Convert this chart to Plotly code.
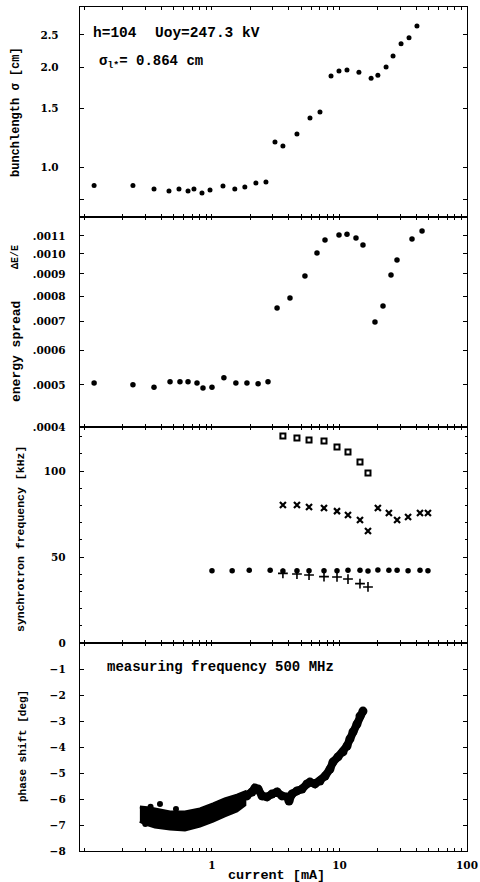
import plotly.graph_objects as go

# ---------------- data ----------------
# panel 1: bunch length sigma [cm] vs current [mA]
bl_current = [0.119, 0.240, 0.351, 0.460, 0.551, 0.649, 0.722, 0.835, 0.965, 1.22, 1.51,
              1.81, 2.21, 2.65, 3.12, 3.60, 4.64, 5.87, 7.03, 8.58, 9.91, 11.45, 14.2,
              17.7, 20.0, 23.2, 26.3, 30.4, 35.1, 40.5]
bl_sigma = [0.880, 0.880, 0.858, 0.847, 0.858, 0.847, 0.858, 0.835, 0.852, 0.876, 0.858,
            0.870, 0.895, 0.901, 1.190, 1.157, 1.257, 1.405, 1.464, 1.880, 1.946, 1.960, 1.930,
            1.850, 1.890, 2.000, 2.160, 2.350, 2.450, 2.660]

# panel 2: energy spread dE/E
es_current = [0.119, 0.240, 0.351, 0.469, 0.561, 0.649, 0.763, 0.850, 1.00, 1.24, 1.54,
              1.88, 2.30, 2.75, 3.24, 4.09, 5.36, 6.66, 7.70, 9.91, 11.45, 13.47, 15.28,
              18.98, 21.94, 25.35, 28.25, 37.04, 44.4]
es_value = [0.000505, 0.000500, 0.000494, 0.000508, 0.000508, 0.000508, 0.000505, 0.000492,
            0.000494, 0.000519, 0.000505, 0.000505, 0.000503, 0.000508, 0.000751, 0.000792,
            0.000890, 0.001005, 0.001076, 0.001105, 0.001110, 0.001088, 0.001048, 0.000697,
            0.000759, 0.000894, 0.000968, 0.001082, 0.001129]

# panel 3: synchrotron frequency [kHz]
sq_current = [3.60, 4.64, 5.77, 7.56, 9.56, 11.66, 14.48, 16.73]
sq_freq = [120.3, 119.2, 118.0, 117.4, 114.0, 111.0, 105.2, 98.8]

xm_current = [3.60, 4.64, 5.77, 7.56, 9.56, 11.66, 14.48, 16.73, 20.0, 24.4, 28.3, 34.5, 42.8, 49.4]
xm_freq = [80.2, 80.2, 79.1, 78.5, 76.7, 74.4, 71.5, 65.1, 78.5, 75.6, 71.5, 73.3, 75.6, 75.6]

dot_current = [1.00, 1.44, 1.96, 2.86, 3.60, 4.64, 5.77, 7.56, 9.56, 11.66, 14.48, 16.73,
               20.0, 24.4, 28.3, 34.5, 42.8, 49.4]
dot_freq = [42.0, 42.0, 42.3, 42.3, 41.8, 42.0, 42.0, 42.0, 42.0, 42.3, 42.3, 41.8,
            42.5, 42.3, 42.3, 42.0, 42.3, 42.0]

plus_current = [3.60, 4.64, 5.77, 7.56, 9.56, 11.66, 14.48, 16.73]
plus_freq = [40.5, 40.1, 39.5, 38.6, 38.4, 37.2, 34.5, 32.6]

# panel 4: phase shift [deg] measured at 500 MHz
band_current = [0.272, 0.326, 0.391, 0.469, 0.614, 0.805, 1.02, 1.26, 1.57, 1.81,
                1.81, 1.57, 1.26, 1.02, 0.805, 0.614, 0.469, 0.357, 0.298, 0.272]
band_phase = [-6.31, -6.35, -6.42, -6.50, -6.50, -6.38, -6.19, -6.00, -5.85, -5.73,
              -6.23, -6.46, -6.65, -6.85, -7.04, -7.19, -7.15, -7.08, -6.96, -6.85]

line_current = [1.66, 1.88, 2.06, 2.17, 2.30, 2.47, 2.70, 2.95, 3.24, 3.54, 3.88, 4.02,
                4.24, 4.64, 5.08, 5.56, 5.87, 6.42, 7.03, 7.70, 8.42, 8.89, 9.73, 10.65,
                11.45, 12.08, 12.76, 13.71, 14.48, 15.28]
line_phase = [-6.00, -5.88, -5.73, -5.58, -5.62, -5.88, -5.92, -5.81, -5.73, -5.88, -5.92,
              -6.08, -5.81, -5.69, -5.62, -5.42, -5.35, -5.42, -5.31, -5.12, -4.85, -4.58,
              -4.38, -4.19, -3.96, -3.69, -3.42, -3.12, -2.81, -2.62]

stray_current = [0.391, 0.522, 0.30, 0.33]
stray_phase = [-6.19, -6.38, -6.96, -6.30]

x_major = [1, 10, 100]
y1_ticks = [0.8, 1.0, 1.5, 2.0, 2.5]
y1_text = ["", "1.0", "1.5", "2.0", "2.5"]
y2_ticks = [0.0004, 0.0005, 0.0006, 0.0007, 0.0008, 0.0009, 0.0010, 0.0011]
y2_text = [".0004", ".0005", ".0006", ".0007", ".0008", ".0009", ".0010", ".0011"]
y3_ticks = [0, 50, 100]
y4_ticks = [-8, -7, -6, -5, -4, -3, -2, -1]
y4_text = ["\u22128", "\u22127", "\u22126", "\u22125", "\u22124", "\u22123", "\u22122", "\u22121"]

# ---------------- geometry helpers ----------------
W, H = 480, 882
L, R, T, B = 80, 467, 7, 851


def px(x):
    return (x - L) / (R - L)


def py(y):
    return (B - y) / (B - T)


d1 = [py(217), 1.0]
d2 = [py(427), py(217)]
d3 = [py(643), py(427)]
d4 = [0.0, py(643)]

xtickvals = []
xticktext = []
for dec in [0.1, 1, 10]:
    for m in range(1, 10):
        v = round(m * dec, 6)
        xtickvals.append(v)
        xticktext.append(str(int(v)) if v in x_major else "")
xtickvals.append(100)
xticktext.append("100")

BLACK = "black"
tickfont = dict(family="DejaVu Serif", size=10.5, color=BLACK, weight="bold")
mono = "Liberation Mono"

fig = go.Figure()

mk = dict(color=BLACK, size=5)
fig.add_trace(go.Scatter(x=bl_current, y=bl_sigma, mode="markers", marker=mk, xaxis="x", yaxis="y"))
fig.add_trace(go.Scatter(x=es_current, y=es_value, mode="markers", marker=dict(color=BLACK, size=5.5),
                         xaxis="x2", yaxis="y2"))
fig.add_trace(go.Scatter(x=sq_current, y=sq_freq, mode="markers",
                         marker=dict(symbol="square-open", size=5, color=BLACK, line=dict(width=2, color=BLACK)),
                         xaxis="x3", yaxis="y3"))
fig.add_trace(go.Scatter(x=xm_current, y=xm_freq, mode="markers",
                         marker=dict(symbol="x-thin-open", size=6, color=BLACK, line=dict(width=2.2, color=BLACK)),
                         xaxis="x3", yaxis="y3"))
fig.add_trace(go.Scatter(x=dot_current, y=dot_freq, mode="markers",
                         marker=dict(symbol="circle", size=5.5, color=BLACK),
                         xaxis="x3", yaxis="y3"))
fig.add_trace(go.Scatter(x=plus_current, y=plus_freq, mode="markers",
                         marker=dict(symbol="cross-thin-open", size=7, color=BLACK, line=dict(width=1.6, color=BLACK)),
                         xaxis="x3", yaxis="y3"))
fig.add_trace(go.Scatter(x=band_current, y=band_phase, mode="lines", fill="toself", fillcolor=BLACK,
                         line=dict(color=BLACK, width=3), xaxis="x4", yaxis="y4"))
fig.add_trace(go.Scatter(x=line_current, y=line_phase, mode="lines+markers",
                         line=dict(color=BLACK, width=8), marker=dict(color=BLACK, size=9),
                         xaxis="x4", yaxis="y4"))
fig.add_trace(go.Scatter(x=stray_current, y=stray_phase, mode="markers",
                         marker=dict(color=BLACK, size=6), xaxis="x4", yaxis="y4"))

axis_common = dict(showline=True, linecolor=BLACK, linewidth=1.4, mirror="ticks", ticks="inside",
                   ticklen=4, tickcolor=BLACK, tickwidth=1, showgrid=False, zeroline=False,
                   tickfont=tickfont, automargin=False, tickangle=0)

xrange = [-1.035, 2.0]
layout = dict(width=W, height=H, margin=dict(l=L, r=W - R, t=T, b=H - B, pad=0, autoexpand=False),
              paper_bgcolor="white", plot_bgcolor="white", showlegend=False,
              font=dict(family="DejaVu Serif", color=BLACK))

for i, dom in zip(["", "2", "3", "4"], [d1, d2, d3, d4]):
    xa = dict(axis_common, type="log", range=xrange, tickmode="array", tickvals=xtickvals,
              ticktext=xticktext, ticklen=3, anchor="y" + i, domain=[0, 1],
              showticklabels=(i == "4"), ticklabelstandoff=4)
    if i != "":
        xa["matches"] = "x"
    layout["xaxis" + i] = xa

layout["yaxis"] = dict(axis_common, type="log", domain=d1, anchor="x",
                       range=[-0.1506, 0.482], tickmode="array", tickvals=y1_ticks, ticktext=y1_text,
                       ticklabelstandoff=18)
layout["yaxis2"] = dict(axis_common, type="log", domain=d2, anchor="x2",
                        range=[-3.3979, -3.3979 + 210 / 435], tickmode="array", tickvals=y2_ticks,
                        ticktext=y2_text, ticklabelstandoff=11)
layout["yaxis3"] = dict(axis_common, type="linear", domain=d3, anchor="x3", range=[0, 125.6],
                        tickmode="array", tickvals=y3_ticks, ticklabelstandoff=11,
                        minor=dict(dtick=10, ticks="inside", ticklen=2, tickcolor=BLACK))
layout["yaxis4"] = dict(axis_common, type="linear", domain=d4, anchor="x4", range=[-8, 0],
                        tickmode="array", tickvals=y4_ticks, ticktext=y4_text, ticklabelstandoff=11)

fig.update_layout(**layout)

ann = []


def text(x, y, s, size, xanchor="left", angle=0):
    ann.append(dict(x=px(x), y=py(y), xref="paper", yref="paper", text=s, showarrow=False,
                    xanchor=xanchor, yanchor="middle", textangle=angle,
                    font=dict(family=mono, size=size, color=BLACK, weight="bold")))


text(91, 33, "h=104", 14.5)
text(153, 33, "Uoy=247.3 kV", 14.5)
text(97, 62, "\u03c3<sub>l*</sub>= 0.864 cm", 14)
text(105, 667, "measuring frequency 500 MHz", 14)
text(16, 112, "bunchlength \u03c3 [cm]", 12, "center", -90)
text(15, 257, "\u0394E/E", 10, "center", -90)
text(16, 352, "energy spread", 13, "center", -90)
text(20, 539, "synchrotron frequency [kHz]", 11.5, "center", -90)
text(23, 746, "phase shift [deg]", 11, "center", -90)
text(276, 875, "current [mA]", 13.5, "center")

fig.update_layout(annotations=ann)
fig.write_html("out.html")
